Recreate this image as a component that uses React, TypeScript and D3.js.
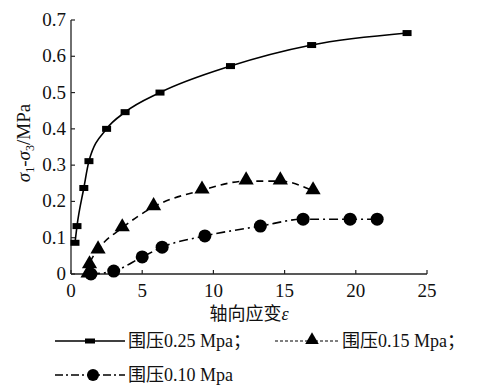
import * as d3 from "d3";

// 围压 0.25 MPa
const strain025 = [0.28, 0.42, 0.9, 1.26, 2.5, 3.8, 6.25, 11.2, 16.9, 23.6];
const stress025 = [0.086, 0.132, 0.237, 0.311, 0.4, 0.446, 0.5, 0.573, 0.631, 0.664];

// 围压 0.15 MPa
const strain015 = [1.2, 1.3, 1.9, 3.6, 5.8, 9.2, 12.3, 14.7, 17.0];
const stress015 = [0.0, 0.025, 0.066, 0.127, 0.185, 0.231, 0.256, 0.256, 0.229];

// 围压 0.10 MPa
const strain010 = [1.4, 3.0, 5.0, 6.4, 9.4, 13.3, 16.3, 19.6, 21.5];
const stress010 = [0.0, 0.008, 0.047, 0.074, 0.105, 0.132, 0.151, 0.151, 0.151];

const xTicks = [0, 5, 10, 15, 20, 25];
const yTicks = [0, 0.1, 0.2, 0.3, 0.4, 0.5, 0.6, 0.7];

const W = 479;
const H = 385;
const serif = '"Liberation Serif", "DejaVu Serif", "Noto Sans CJK SC"';

const x = d3.scaleLinear().domain([0, 25]).range([71, 427]);
const y = d3.scaleLinear().domain([0, 0.7]).range([274, 20]);

const zip = (xs: number[], ys: number[]) => xs.map((v, i) => [v, ys[i]] as [number, number]);

const line = d3
  .line<[number, number]>()
  .x((d) => x(d[0]))
  .y((d) => y(d[1]))
  .curve(d3.curveMonotoneX);

const tri = d3.symbol(d3.symbolTriangle, 100)();

export default function App() {
  const s1 = zip(strain025, stress025);
  const s2 = zip(strain015, stress015);
  const s3 = zip(strain010, stress010);

  return (
    <svg
      width={W}
      height={H}
      style={{ position: "absolute", left: 0, top: 0, background: "#fff", fontFamily: serif }}
    >
      {/* axes */}
      <line x1={x(0)} x2={x(25)} y1={y(0)} y2={y(0)} stroke="#222" strokeWidth={1.3} />
      <line x1={x(0)} x2={x(0)} y1={y(0)} y2={y(0.7)} stroke="#222" strokeWidth={1.3} />
      {xTicks.map((t) => (
        <g key={"x" + t}>
          <line x1={x(t)} x2={x(t)} y1={y(0)} y2={y(0) - 4} stroke="#222" strokeWidth={1.2} />
          <text x={x(t)} y={297} fontSize={19} textAnchor="middle" fill="#111">
            {t}
          </text>
        </g>
      ))}
      {yTicks.map((t) => (
        <g key={"y" + t}>
          <line x1={x(0)} x2={x(0) + 4} y1={y(t)} y2={y(t)} stroke="#222" strokeWidth={1.2} />
          <text x={66} y={y(t) + 6} fontSize={19} textAnchor="end" fill="#111">
            {t === 0 ? "0" : t.toFixed(1)}
          </text>
        </g>
      ))}

      {/* axis titles */}
      <text x={249} y={320} fontSize={18} textAnchor="middle" fill="#111">
        轴向应变<tspan fontStyle="italic">ε</tspan>
      </text>
      <text
        transform="translate(30,143) rotate(-90)"
        fontSize={19}
        textAnchor="middle"
        fill="#111"
      >
        <tspan fontStyle="italic">σ</tspan>
        <tspan fontSize={12} dy={4}>1</tspan>
        <tspan dy={-4}>-</tspan>
        <tspan fontStyle="italic">σ</tspan>
        <tspan fontSize={12} dy={4}>3</tspan>
        <tspan dy={-4}>/MPa</tspan>
      </text>

      {/* series lines */}
      <path d={line(s1) ?? ""} fill="none" stroke="#000" strokeWidth={1.6} />
      <path d={line(s2) ?? ""} fill="none" stroke="#000" strokeWidth={1.6} strokeDasharray="7,5" />
      <path d={line(s3) ?? ""} fill="none" stroke="#000" strokeWidth={1.6} strokeDasharray="9,4,2,4" />

      {/* markers */}
      {s1.map((d, i) => (
        <rect key={"m1" + i} x={x(d[0]) - 4.5} y={y(d[1]) - 3} width={9} height={6} fill="#000" />
      ))}
      {s2.map((d, i) => (
        <path key={"m2" + i} d={tri ?? ""} transform={`translate(${x(d[0])},${y(d[1]) - 1})`} fill="#000" />
      ))}
      {s3.map((d, i) => (
        <circle key={"m3" + i} cx={x(d[0])} cy={y(d[1])} r={6.5} fill="#000" />
      ))}

      {/* legend */}
      <g fill="#111" fontSize={18}>
        <line x1={55} x2={125} y1={341} y2={341} stroke="#000" strokeWidth={1.4} />
        <rect x={85} y={338.5} width={10} height={5} fill="#000" />
        <text x={128} y={347}>围压0.25 Mpa；</text>

        <line x1={275} x2={340} y1={341} y2={341} stroke="#000" strokeWidth={1.2} strokeDasharray="3,2" />
        <path d={d3.symbol(d3.symbolTriangle, 80)() ?? ""} transform="translate(312,340)" fill="#000" />
        <text x={342} y={347}>围压0.15 Mpa；</text>

        <line x1={55} x2={125} y1={375} y2={375} stroke="#000" strokeWidth={1.4} strokeDasharray="8,3,2,3" />
        <circle cx={93} cy={375} r={6} fill="#000" />
        <text x={128} y={381}>围压0.10 Mpa</text>
      </g>
    </svg>
  );
}
